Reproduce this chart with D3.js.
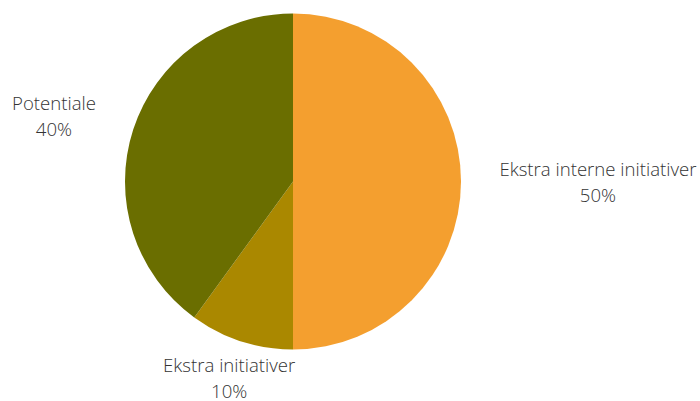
<!DOCTYPE html>
<html><head><meta charset="utf-8">
<script src="https://cdn.jsdelivr.net/npm/d3@7"></script>
<style>body{margin:0;background:#fff}svg{display:block}</style>
</head><body>
<svg id="c" width="700" height="401"></svg>
<script>
const categories = ["Ekstra interne initiativer", "Ekstra initiativer", "Potentiale"];
const values = [50, 10, 40];
const labels = ["50%", "10%", "40%"];
const colors = ["#F49F2F", "#AA8800", "#6A6E00"];

const svg = d3.select("#c");
const cx = 293, cy = 181.5, r = 168;
const g = svg.append("g").attr("transform", `translate(${cx},${cy})`);
const pie = d3.pie().sort(null).value(d => d.v);
const data = categories.map((c, i) => ({c, v: values[i], l: labels[i], col: colors[i]}));
const arcs = pie(data);
const arc = d3.arc().innerRadius(0).outerRadius(r);
g.selectAll("path").data(arcs).enter().append("path")
  .attr("d", arc).attr("fill", d => d.data.col);

// label placement: radius factor and vertical nudge per slice
const labelR = [1.815, 1.23, 1.496];
const labelDy = [0, 0, 12];
const lg = g.selectAll("g.lbl").data(arcs).enter().append("g")
  .attr("transform", (d, i) => {
    const p = d3.arc().innerRadius(r * labelR[i]).outerRadius(r * labelR[i]).centroid(d);
    return `translate(${p[0]},${p[1] + labelDy[i]})`;
  });
const fs = "18.6px";
lg.append("text").attr("text-anchor", "middle").attr("y", -6)
  .style("font-family", "'Open Sans'").style("font-weight", 300).style("font-size", fs).attr("fill", "#333")
  .text(d => d.data.c);
lg.append("text").attr("text-anchor", "middle").attr("y", 20)
  .style("font-family", "'Open Sans'").style("font-weight", 300).style("font-size", fs).attr("fill", "#333")
  .text(d => d.data.l);
</script>
</body></html>
